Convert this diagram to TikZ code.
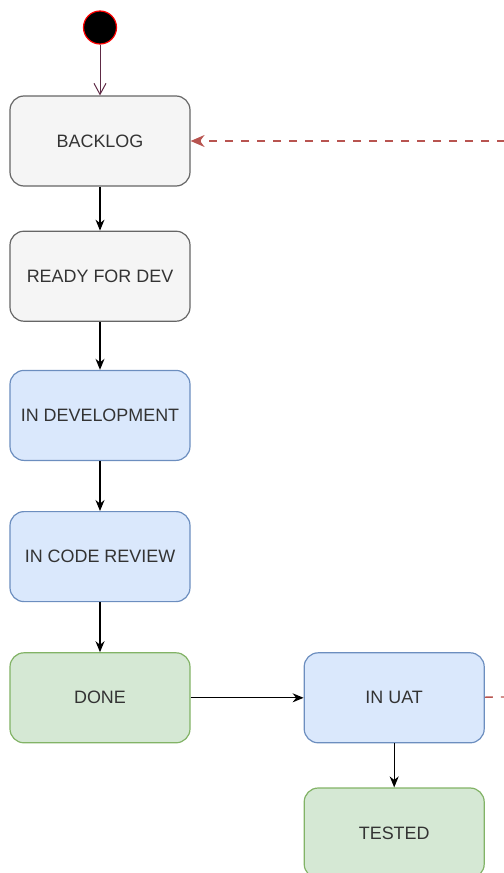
\documentclass[tikz,border=0pt]{standalone}
\usepackage{fontspec}
\setmainfont{Liberation Sans}
\definecolor{greyfill}{HTML}{F5F5F5}
\definecolor{greyline}{HTML}{666666}
\definecolor{bluefill}{HTML}{DAE8FC}
\definecolor{blueline}{HTML}{6C8EBF}
\definecolor{greenfill}{HTML}{D5E8D4}
\definecolor{greenline}{HTML}{82B366}
\definecolor{redline}{HTML}{B85450}
\definecolor{txtgrey}{HTML}{333333}
\definecolor{startline}{HTML}{5E2A45}
\usetikzlibrary{arrows.meta,positioning}

\begin{document}
\begin{tikzpicture}[x=1bp,y=-1bp,
  state/.style={rounded corners=14bp,line width=1.2bp,minimum width=180bp,
                minimum height=90bp,inner sep=0pt,align=center,text=txtgrey,
                font=\fontsize{18}{21}\selectfont},
  todo/.style={state,draw=greyline,fill=greyfill},
  busy/.style={state,draw=blueline,fill=bluefill},
  fin/.style={state,draw=greenline,fill=greenfill},
  arr/.style={-{Stealth[length=11bp,width=9bp]},line width=1.3bp,draw=black},
  back/.style={-{Stealth[length=14bp,width=12bp]},line width=1.3bp,draw=redline,
               dash pattern=on 8bp off 8bp}]
\useasboundingbox (0,0) rectangle (504,873);
\node[circle,fill=black,draw=red,line width=1.2bp,minimum size=33bp,inner sep=0pt]
  (start) at (100,27.5) {};
\node[todo] (backlog) at (100,141) {BACKLOG};
\node[todo,below=44bp of backlog] (ready) {READY FOR DEV};
\node[busy,below=48bp of ready] (dev) {IN DEVELOPMENT};
\node[busy,below=50bp of dev] (review) {IN CODE REVIEW};
\node[fin,below=50bp of review] (done) {DONE};
\node[busy,right=113bp of done] (uat) {IN UAT};
\node[fin,below=44bp of uat] (tested) {TESTED};
\coordinate (offtop) at (505,141);
\coordinate (offuat) at (505,697);
% flow
\draw[-{Straight Barb[length=11bp,width=12bp]},line width=1bp,draw=startline]
  (start) -- (backlog);
\draw[arr] (backlog) -- (ready);
\draw[arr] (ready) -- (dev);
\draw[arr] (dev) -- (review);
\draw[arr] (review) -- (done);
\draw[arr] (done) -- (uat);
\draw[arr] (uat) -- (tested);
% rejected, back to backlog
\draw[back] (offtop) -- (backlog);
\draw[back,-] (uat) -- (offuat);
\end{tikzpicture}
\end{document}
